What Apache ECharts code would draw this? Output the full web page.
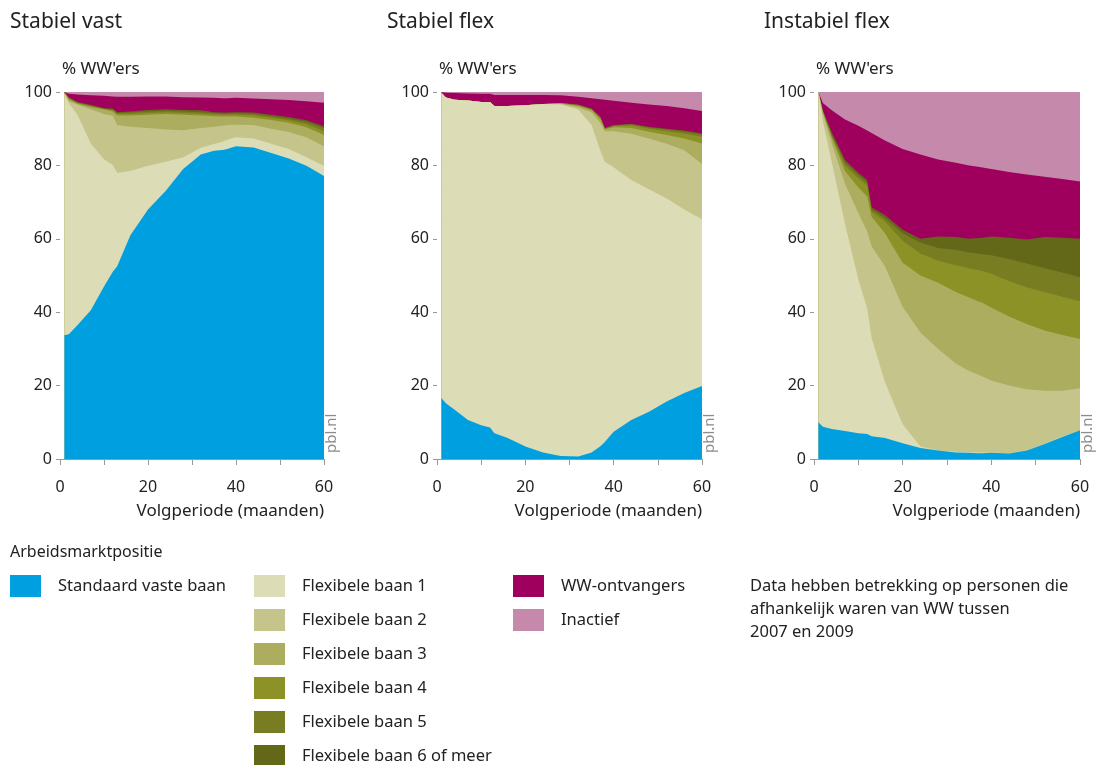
<!DOCTYPE html>
<html>
<head>
<meta charset="utf-8">
<script src="https://cdn.jsdelivr.net/npm/echarts@6/dist/echarts.min.js"></script>
<style>
  html, body { margin: 0; background: #fff; }
  #chart { width: 1099px; height: 765px; }
</style>
</head>
<body>
<div id="chart"></div>
<script>
var months = [1, 2, 4, 7, 10, 12, 13, 16, 20, 24, 28, 32, 35, 37, 38, 40, 44, 48, 52, 56, 60];

// bovengrens van elke laag (cumulatief % WW'ers)
// Stabiel vast
var svVast  = [33.7, 34, 36.5, 40.5, 47, 51, 52.5, 61, 68, 73, 79, 83, 84, 84.2, 84.5, 85.2, 84.9, 83.4, 81.9, 79.9, 77.1];
var svFlex1 = [99.5, 97, 93.7, 86, 81.7, 80.1, 78, 78.5, 79.9, 81, 82.2, 84.8, 85.8, 86.5, 87, 87.7, 87.3, 85.9, 84.5, 82.2, 79.9];
var svFlex2 = [99.8, 97.5, 96.5, 95.3, 94, 93.5, 91, 90.5, 90.2, 89.8, 89.6, 90.2, 90.5, 90.8, 91, 91.1, 91, 90, 89.1, 87.7, 85.2];
var svFlex3 = [99.9, 98, 96.8, 95.9, 95.2, 94.7, 93.6, 93.6, 93.8, 94, 93.8, 93.6, 93.4, 93.3, 93.3, 93.3, 93, 92.4, 91.6, 90.4, 88.3];
var svFlex4 = [99.9, 98.2, 97, 96.1, 95.4, 95, 94, 94, 94.3, 94.5, 94.3, 94.1, 93.9, 93.8, 93.8, 93.8, 93.6, 93, 92.3, 91.2, 89.3];
var svFlex5 = [99.9, 98.4, 97.1, 96.3, 95.5, 95.2, 94.3, 94.4, 94.7, 94.9, 94.7, 94.5, 94.2, 94.1, 94.1, 94.2, 94, 93.4, 92.7, 91.8, 90.1];
var svFlex6 = [99.9, 98.6, 97.3, 96.5, 95.6, 95.5, 94.5, 94.7, 95.1, 95.3, 95.1, 95, 94.5, 94.4, 94.4, 94.5, 94.4, 93.8, 93.2, 92.3, 90.7];
var svWW    = [100, 99.5, 99.3, 99.1, 99, 98.8, 98.7, 98.7, 98.8, 98.8, 98.6, 98.5, 98.4, 98.3, 98.3, 98.4, 98.2, 98, 97.8, 97.5, 97.1];

// Stabiel flex
var sfVast  = [16.6, 15.2, 13.4, 10.6, 9.2, 8.6, 7, 5.7, 3.4, 1.8, 0.8, 0.7, 1.8, 3.5, 4.6, 7.4, 10.6, 12.9, 15.7, 18, 19.9];
var sfFlex1 = [99.8, 98.5, 97.9, 97.7, 97.3, 97.3, 96.2, 96.2, 96.4, 96.7, 96.6, 95.2, 91, 84, 81, 79.5, 76, 73.5, 71, 68, 65.3];
var sfFlex2 = [99.8, 98.5, 97.9, 97.7, 97.3, 97.3, 96.2, 96.2, 96.4, 96.7, 96.8, 95.8, 94.5, 91.5, 89.3, 89.3, 88.6, 87.3, 85.9, 84.1, 80.4];
var sfFlex3 = [99.8, 98.5, 97.9, 97.7, 97.3, 97.3, 96.2, 96.2, 96.4, 96.7, 96.9, 96.2, 95, 92.5, 89.8, 90.4, 90.2, 89.2, 88.3, 87.3, 86];
var sfFlex4 = [99.8, 98.5, 97.9, 97.7, 97.3, 97.3, 96.2, 96.2, 96.4, 96.7, 97, 96.4, 95.3, 92.9, 90, 90.7, 90.9, 90, 89.3, 88.7, 87.8];
var sfFlex5 = [99.8, 98.5, 97.9, 97.7, 97.3, 97.3, 96.2, 96.2, 96.4, 96.7, 97, 96.5, 95.4, 93.1, 90.1, 90.9, 91.2, 90.3, 89.8, 89.2, 88.4];
var sfFlex6 = [99.8, 98.5, 97.9, 97.7, 97.3, 97.3, 96.2, 96.2, 96.4, 96.7, 97, 96.5, 95.5, 93.2, 90.2, 91, 91.3, 90.5, 90, 89.5, 88.7];
var sfWW    = [100, 99.8, 99.7, 99.6, 99.5, 99.5, 99.2, 99.2, 99.2, 99.2, 99.1, 98.7, 98.3, 98, 97.9, 97.6, 97.1, 96.6, 96.2, 95.6, 94.8];

// Instabiel flex
var ifVast  = [10, 8.8, 8.2, 7.6, 7.0, 6.8, 6.2, 5.7, 4.3, 3.0, 2.3, 1.8, 1.7, 1.6, 1.6, 1.7, 1.5, 2.3, 4.1, 6.0, 7.8];
var ifFlex1 = [100, 92, 81, 64, 49, 41, 33, 21, 9.5, 3.4, 2.4, 2.0, 1.9, 1.8, 1.8, 1.8, 1.6, 2.4, 4.2, 6.1, 7.9];
var ifFlex2 = [100, 94, 86, 75, 67, 62, 58, 52.5, 41.5, 34.5, 30, 26, 24, 23, 22.5, 21.4, 20, 19, 18.6, 18.6, 19.3];
var ifFlex3 = [100, 94.5, 87.5, 78.5, 74, 71.5, 66, 61.5, 53.5, 50, 48, 45.5, 44, 43, 42.6, 41.2, 38.8, 36.8, 35, 33.8, 32.7];
var ifFlex4 = [100, 94.7, 88, 80, 76.5, 74.5, 67.3, 64.8, 59.5, 56, 54, 52.8, 52, 51.5, 51.2, 50.5, 48.5, 46.8, 45.5, 44.2, 43];
var ifFlex5 = [100, 94.8, 88.5, 80.8, 77.3, 75.3, 68, 65.7, 61.5, 59, 57.5, 57, 56.3, 56, 55.8, 55.5, 54.5, 53.3, 52, 50.8, 49.5];
var ifFlex6 = [100, 95, 89, 81.5, 78, 76, 68.6, 66.5, 62.5, 60, 60.6, 60.5, 60, 60.2, 60.3, 60.6, 60.3, 59.8, 60.5, 60.3, 60];
var ifWW    = [100, 97, 95, 92.5, 90.8, 89.5, 88.8, 86.8, 84.5, 83, 81.6, 80.7, 80, 79.6, 79.4, 79, 78.2, 77.5, 76.9, 76.3, 75.6];

// Inactief vult steeds aan tot 100%
var inactief = [100, 100, 100, 100, 100, 100, 100, 100, 100, 100, 100, 100, 100, 100, 100, 100, 100, 100, 100, 100, 100];

var layerNames = ['Inactief', 'WW-ontvangers', 'Flexibele baan 6 of meer', 'Flexibele baan 5',
  'Flexibele baan 4', 'Flexibele baan 3', 'Flexibele baan 2', 'Flexibele baan 1', 'Standaard vaste baan'];
var layerColors = ['#c58aab', '#9f005d', '#636819', '#787d21', '#8c9226', '#adad5f', '#c5c48a', '#dcdcb6', '#009fdf'];

// legenda-kolommen: [x van het vlakje, namen]
var legendCols = [
  [10, ['Standaard vaste baan']],
  [254, ['Flexibele baan 1', 'Flexibele baan 2', 'Flexibele baan 3', 'Flexibele baan 4',
         'Flexibele baan 5', 'Flexibele baan 6 of meer']],
  [513, ['WW-ontvangers', 'Inactief']]
];

var panels = [
  { title: 'Stabiel vast', left: 60, width: 264,
    layers: [inactief, svWW, svFlex6, svFlex5, svFlex4, svFlex3, svFlex2, svFlex1, svVast] },
  { title: 'Stabiel flex', left: 437, width: 265,
    layers: [inactief, sfWW, sfFlex6, sfFlex5, sfFlex4, sfFlex3, sfFlex2, sfFlex1, sfVast] },
  { title: 'Instabiel flex', left: 814, width: 266,
    layers: [inactief, ifWW, ifFlex6, ifFlex5, ifFlex4, ifFlex3, ifFlex2, ifFlex1, ifVast] }
];

var gridTop = 92, gridHeight = 367;
var font = '"Noto Sans", "Open Sans", sans-serif';
var textColor = '#222';

var chart = echarts.init(document.getElementById('chart'), null, { renderer: 'canvas' });

var grids = [], xAxes = [], yAxes = [], series = [], graphics = [];

panels.forEach(function (p, gi) {
  grids.push({ left: p.left, top: gridTop, width: p.width, height: gridHeight });
  xAxes.push({
    type: 'value', gridIndex: gi, min: 0, max: 60, interval: 10,
    axisLine: { show: true, lineStyle: { color: '#999', width: 1 } },
    axisTick: { show: true, length: 6, lineStyle: { color: '#999' } },
    axisLabel: {
      margin: 20, color: textColor, fontFamily: font, fontSize: 16,
      formatter: function (v) { return v % 20 === 0 ? String(v) : ''; }
    },
    splitLine: { show: false }
  });
  yAxes.push({
    type: 'value', gridIndex: gi, min: 0, max: 100, interval: 20,
    axisLine: { show: false },
    axisTick: { show: true, length: 4, lineStyle: { color: '#999' } },
    axisLabel: { margin: 8, color: textColor, fontFamily: font, fontSize: 16 },
    splitLine: { show: false }
  });

  p.layers.forEach(function (arr, li) {
    series.push({
      name: layerNames[li],
      type: 'line',
      xAxisIndex: gi, yAxisIndex: gi,
      data: months.map(function (m, i) { return [m, arr[i]]; }),
      showSymbol: false,
      symbol: 'none',
      silent: true,
      lineStyle: { width: 0 },
      itemStyle: { color: layerColors[li] },
      areaStyle: { color: layerColors[li], opacity: 1 }
    });
  });

  graphics.push(
    { type: 'text', x: p.left - 50, y: 22,
      style: { text: p.title, font: '21px ' + font, fill: textColor, textVerticalAlign: 'middle' } },
    { type: 'text', x: p.left + 2, y: 69,
      style: { text: "% WW'ers", font: '17px ' + font, fill: textColor, textVerticalAlign: 'middle' } },
    { type: 'text', x: p.left + p.width, y: 511,
      style: { text: 'Volgperiode (maanden)', font: '17px ' + font, fill: textColor,
        textAlign: 'right', textVerticalAlign: 'middle' } },
    { type: 'text', x: p.left + p.width + 8, y: 453, rotation: Math.PI / 2,
      style: { text: 'pbl.nl', font: '15px ' + font, fill: '#8c8c8c',
        textAlign: 'left', textVerticalAlign: 'middle' } }
  );
});

graphics.push(
  { type: 'text', x: 10, y: 552,
    style: { text: 'Arbeidsmarktpositie', font: '16px ' + font, fill: textColor, textVerticalAlign: 'middle' } },
  { type: 'text', x: 750, y: 575,
    style: { text: 'Data hebben betrekking op personen die\nafhankelijk waren van WW tussen\n2007 en 2009',
      font: '16.5px ' + font, fill: textColor, lineHeight: 23 } }
);

legendCols.forEach(function (col) {
  col[1].forEach(function (name, r) {
    var cy = 586 + r * 34;
    graphics.push(
      { type: 'rect', shape: { x: col[0], y: cy - 11, width: 31, height: 22 },
        style: { fill: layerColors[layerNames.indexOf(name)] } },
      { type: 'text', x: col[0] + 48, y: cy,
        style: { text: name, font: '16.5px ' + font, fill: textColor, textVerticalAlign: 'middle' } }
    );
  });
});

var option = {
  animation: false,
  backgroundColor: '#fff',
  grid: grids,
  xAxis: xAxes,
  yAxis: yAxes,
  graphic: graphics,
  series: series
};

chart.setOption(option);
</script>
</body>
</html>
